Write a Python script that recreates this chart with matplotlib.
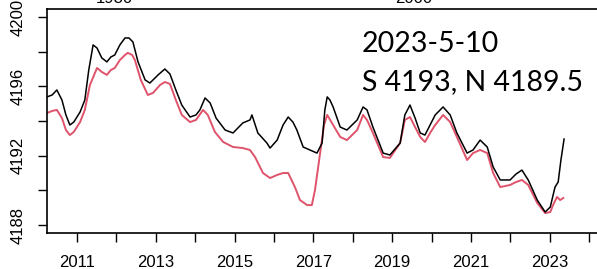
import matplotlib
matplotlib.use("Agg")
import matplotlib.pyplot as plt

# black series (S)
s_year = [2010.24, 2010.37, 2010.49, 2010.62, 2010.72, 2010.82, 2010.92, 2011.08, 2011.20, 2011.30,
          2011.41, 2011.51, 2011.63, 2011.76, 2011.86, 2011.96, 2012.09, 2012.22, 2012.32, 2012.42,
          2012.55, 2012.73, 2012.85, 2013.06, 2013.23, 2013.36, 2013.51, 2013.66, 2013.87, 2014.02,
          2014.12, 2014.25, 2014.38, 2014.53, 2014.76, 2014.96, 2015.21, 2015.39, 2015.44, 2015.59,
          2015.82, 2015.90, 2016.08, 2016.23, 2016.36, 2016.48, 2016.58, 2016.74, 2016.91, 2017.09,
          2017.22, 2017.29, 2017.35, 2017.42, 2017.50, 2017.68, 2017.85, 2018.11, 2018.26, 2018.36,
          2018.51, 2018.77, 2018.94, 2019.20, 2019.32, 2019.45, 2019.58, 2019.71, 2019.83, 2019.96,
          2020.09, 2020.29, 2020.47, 2020.64, 2020.90, 2021.05, 2021.23, 2021.41, 2021.56, 2021.74,
          2021.99, 2022.14, 2022.29, 2022.45, 2022.68, 2022.88, 2023.01, 2023.13, 2023.21, 2023.28,
          2023.36]
s_val = [4195.39, 4195.50, 4195.79, 4195.21, 4194.35, 4193.77, 4193.94, 4194.52, 4195.21, 4196.94,
         4198.39, 4198.21, 4197.64, 4197.41, 4197.69, 4197.81, 4198.39, 4198.79, 4198.79, 4198.56,
         4197.41, 4196.37, 4196.19, 4196.66, 4197.00, 4196.71, 4195.79, 4194.92, 4194.23, 4194.35,
         4194.64, 4195.33, 4195.04, 4194.17, 4193.48, 4193.31, 4193.89, 4194.06, 4194.35, 4193.31,
         4192.73, 4192.44, 4192.90, 4193.77, 4194.23, 4193.94, 4193.48, 4192.50, 4192.33, 4192.15,
         4192.73, 4194.64, 4195.39, 4195.21, 4194.81, 4193.65, 4193.48, 4194.06, 4194.81, 4194.64,
         4193.65, 4192.15, 4192.04, 4192.73, 4194.35, 4194.92, 4194.17, 4193.31, 4193.19, 4193.77,
         4194.35, 4194.81, 4194.35, 4193.31, 4192.15, 4192.33, 4192.90, 4192.50, 4191.35, 4190.60,
         4190.60, 4190.94, 4191.17, 4190.60, 4189.44, 4188.75, 4189.04, 4190.19, 4190.48, 4191.75,
         4192.96]

# red series (N)
n_year = [2010.24, 2010.37, 2010.49, 2010.62, 2010.72, 2010.82, 2010.92, 2011.08, 2011.20, 2011.33,
          2011.51, 2011.63, 2011.76, 2011.86, 2011.96, 2012.09, 2012.22, 2012.29, 2012.40, 2012.47,
          2012.62, 2012.80, 2012.93, 2013.11, 2013.23, 2013.36, 2013.51, 2013.66, 2013.87, 2014.02,
          2014.20, 2014.32, 2014.50, 2014.71, 2014.96, 2015.21, 2015.39, 2015.52, 2015.72, 2015.90,
          2016.08, 2016.23, 2016.36, 2016.53, 2016.66, 2016.84, 2016.96, 2017.04, 2017.17, 2017.27,
          2017.35, 2017.50, 2017.68, 2017.85, 2018.11, 2018.26, 2018.36, 2018.51, 2018.77, 2018.94,
          2019.20, 2019.32, 2019.45, 2019.58, 2019.71, 2019.83, 2019.96, 2020.09, 2020.29, 2020.47,
          2020.64, 2020.90, 2021.05, 2021.23, 2021.41, 2021.56, 2021.74, 2021.99, 2022.14, 2022.29,
          2022.45, 2022.68, 2022.88, 2023.01, 2023.08, 2023.18, 2023.26, 2023.34]
n_val = [4194.46, 4194.58, 4194.64, 4194.17, 4193.48, 4193.19, 4193.37, 4193.94, 4194.64, 4196.08,
         4197.06, 4196.83, 4196.66, 4196.94, 4197.06, 4197.52, 4197.81, 4197.93, 4197.81, 4197.52,
         4196.37, 4195.50, 4195.62, 4196.08, 4196.25, 4196.14, 4195.21, 4194.35, 4193.94, 4194.06,
         4194.64, 4194.35, 4193.37, 4192.79, 4192.50, 4192.44, 4192.33, 4191.92, 4191.00, 4190.71,
         4190.89, 4191.00, 4191.00, 4190.19, 4189.44, 4189.15, 4189.15, 4190.02, 4192.15, 4193.77,
         4194.35, 4193.77, 4193.08, 4192.90, 4193.48, 4194.35, 4194.06, 4193.31, 4191.92, 4191.87,
         4192.73, 4194.06, 4194.23, 4193.65, 4193.08, 4192.79, 4193.31, 4193.77, 4194.35, 4193.94,
         4193.08, 4191.75, 4192.15, 4192.33, 4192.15, 4191.00, 4190.19, 4190.31, 4190.48, 4190.60,
         4190.31, 4189.27, 4188.69, 4188.75, 4189.15, 4189.62, 4189.44, 4189.56]

x_ticks = list(range(2011, 2025))
x_labels = [str(y) if y % 2 == 1 else '' for y in x_ticks]
y_major = [4188, 4192, 4196, 4200]
y_minor = [4190, 4194, 4198]

date_text = '2023-5-10'
last_text = 'S 4193, N 4189.5'
top_labels = ['1980', '2000']

plt.rcParams['font.family'] = ['Liberation Sans', 'DejaVu Sans']

fig = plt.figure(figsize=(5.97, 2.69), dpi=100)
ax = fig.add_axes([0.0787, 0.1338, 0.95, 0.8327])

ax.plot(n_year, n_val, color='#DF536B', lw=1.4)
ax.plot(s_year, s_val, color='black', lw=1.1)

ax.set_xlim(2010.24, 2024.63)
ax.set_ylim(4187.54, 4200.46)

ax.set_xticks(x_ticks)
ax.set_xticklabels(x_labels)
ax.set_yticks(y_major)
ax.set_yticklabels([str(v) for v in y_major], rotation=90, va='center')
ax.set_yticks(y_minor, minor=True)

ax.tick_params(axis='both', which='both', direction='out', length=6.5, width=1.0,
               labelsize=12, colors='black')
ax.tick_params(axis='x', pad=9)
ax.tick_params(axis='y', pad=9)

for s in ax.spines.values():
    s.set_linewidth(1.2)
ax.spines['right'].set_visible(False)

ax.text(362 / 597, 0.8067, date_text, transform=fig.transFigure, family='Lato',
        fontsize=20.5, ha='left', va='baseline')
ax.text(362 / 597, 0.6654, last_text, transform=fig.transFigure, family='Lato',
        fontsize=20.5, ha='left', va='baseline')

# labels of the panel above, cut by the edge
fig.text(114 / 597, (269 - 3) / 269, top_labels[0], fontsize=12, ha='center', va='baseline')
fig.text(414 / 597, (269 - 3) / 269, top_labels[1], fontsize=12, ha='center', va='baseline')

fig.savefig('out.png', dpi=100)
